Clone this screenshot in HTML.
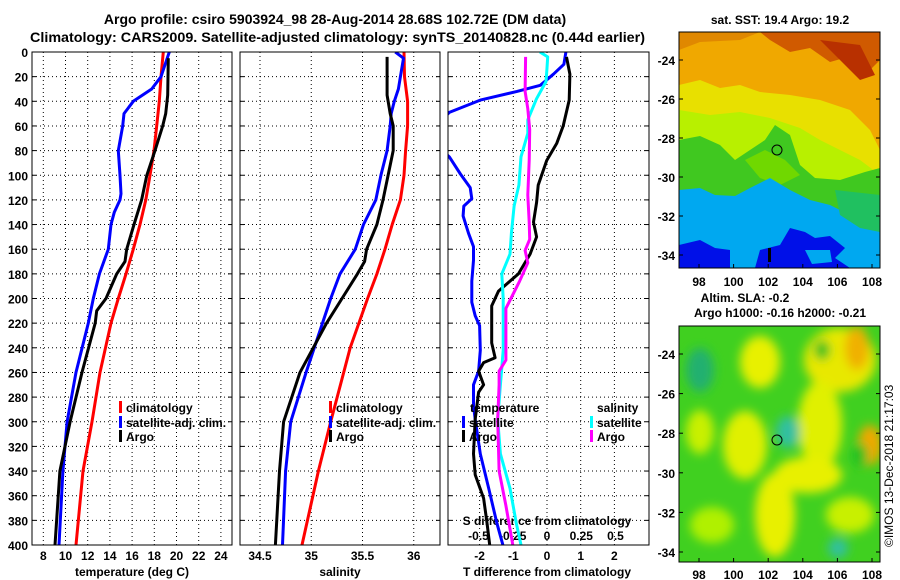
<!DOCTYPE html>
<html><head><meta charset="utf-8"><style>
html,body{margin:0;padding:0;background:#fff;}
svg{display:block;font-family:"Liberation Sans",sans-serif;font-weight:bold;}
text{fill:#000;}
</style></head><body>
<svg id="chart" width="900" height="580" viewBox="0 0 900 580" xmlns="http://www.w3.org/2000/svg">
<defs>
<clipPath id="c1"><rect x="32" y="52" width="200" height="493"/></clipPath>
<clipPath id="c2"><rect x="240" y="52" width="200" height="493"/></clipPath>
<clipPath id="c3"><rect x="448" y="52" width="201" height="493"/></clipPath>
<clipPath id="cm2"><rect x="679" y="326" width="201" height="236"/></clipPath>
<filter id="blur" x="-20%" y="-20%" width="140%" height="140%"><feGaussianBlur stdDeviation="5"/></filter>
</defs>
<text x="335" y="24" text-anchor="middle" font-size="14">Argo profile: csiro 5903924_98 28-Aug-2014 28.68S 102.72E (DM data)</text>
<text x="30" y="42" font-size="14" textLength="615" lengthAdjust="spacingAndGlyphs">Climatology: CARS2009. Satellite-adjusted climatology: synTS_20140828.nc (0.44d earlier)</text>

<g id="panels"></g>

<!-- SST map -->
<g>
<text x="780" y="24" text-anchor="middle" font-size="12">sat. SST: 19.4 Argo: 19.2</text>
<rect x="679" y="32" width="201" height="236" fill="#f0a800"/>
<path d="M760,32 H880 V60 L870,70 L855,55 L830,62 L810,48 L790,52 L770,40 Z" fill="#d05a00"/>
<path d="M820,40 L860,45 L875,75 L860,80 L840,60 Z" fill="#b83000"/>
<path d="M679,32 H760 L740,40 L700,42 L679,50 Z" fill="#e08800"/>
<path d="M679,85 L700,80 L720,88 L740,85 L760,92 L790,95 L820,100 L850,110 L870,130 L880,150 V268 H679 Z" fill="#e8e000"/>
<path d="M679,110 L710,115 L740,112 L770,118 L800,128 L820,140 L860,160 L880,175 V268 H679 Z" fill="#b8f000"/>
<path d="M679,140 L700,136 L720,145 L735,160 L750,150 L765,140 L775,125 L790,135 L800,165 L815,178 L840,180 L865,172 L880,168 V268 H679 Z" fill="#40c820"/>
<path d="M745,160 L765,150 L785,160 L800,175 L780,185 L760,178 Z" fill="#70d800"/>
<path d="M679,190 L700,188 L715,195 L735,196 L750,188 L770,178 L790,190 L810,200 L830,205 L850,215 L880,225 V268 H679 Z" fill="#00a8f0"/>
<path d="M835,190 L880,195 V232 L860,228 L840,215 Z" fill="#20c060"/>
<path d="M679,245 L700,240 L715,248 L730,250 L730,268 H679 Z" fill="#0010e8"/>
<path d="M755,268 L760,250 L780,245 L790,228 L805,232 L815,238 L830,236 L845,248 L835,258 L850,268 Z" fill="#0010e8"/>
<path d="M805,250 L830,250 L832,262 L812,264 Z" fill="#00a8f0"/>
<rect x="768" y="248" width="3" height="14" fill="#000"/>
<ellipse cx="777" cy="150" rx="5" ry="5" fill="none" stroke="#000" stroke-width="1"/>
<rect x="679" y="32" width="201" height="236" fill="none" stroke="#000"/>
</g>

<!-- SLA map -->
<g>
<text x="745" y="302" text-anchor="middle" font-size="12">Altim. SLA: -0.2</text>
<text x="780" y="317" text-anchor="middle" font-size="12">Argo h1000: -0.16 h2000: -0.21</text>
<rect x="679" y="326" width="201" height="236" fill="#40d020"/>
<g clip-path="url(#cm2)" filter="url(#blur)">
<ellipse cx="760" cy="362" rx="20" ry="26" fill="#e8f000"/>
<ellipse cx="745" cy="445" rx="22" ry="34" fill="#e0f000"/>
<ellipse cx="700" cy="432" rx="14" ry="22" fill="#c8f000"/>
<ellipse cx="775" cy="515" rx="20" ry="42" fill="#e8f000"/>
<ellipse cx="712" cy="525" rx="22" ry="18" fill="#b0f000"/>
<ellipse cx="840" cy="360" rx="36" ry="32" fill="#e8e800"/>
<ellipse cx="857" cy="348" rx="12" ry="22" fill="#f0b000"/>
<ellipse cx="820" cy="425" rx="22" ry="44" fill="#e0f000"/>
<ellipse cx="808" cy="475" rx="34" ry="18" fill="#e8f000"/>
<ellipse cx="870" cy="445" rx="12" ry="20" fill="#f0a800"/>
<ellipse cx="850" cy="515" rx="24" ry="18" fill="#c8f000"/>
<ellipse cx="700" cy="370" rx="14" ry="22" fill="#20b070"/>
<ellipse cx="788" cy="432" rx="12" ry="16" fill="#30c0a0"/>
<ellipse cx="838" cy="548" rx="10" ry="10" fill="#30c0a0"/>
<ellipse cx="822" cy="350" rx="8" ry="10" fill="#20c020"/>
<ellipse cx="860" cy="455" rx="8" ry="12" fill="#20c020"/>
</g>
<ellipse cx="777" cy="440" rx="5" ry="5" fill="none" stroke="#000" stroke-width="1"/>
<rect x="679" y="326" width="201" height="236" fill="none" stroke="#000"/>
</g>
<text transform="translate(893,547) rotate(-90)" font-size="12" font-weight="normal">©IMOS 13-Dec-2018 21:17:03</text>
</svg>
<script>
// ---- data ----
var tempTickLabels = [8,10,12,14,16,18,20,22,24];
var salTickLabels = ["34.5","35","35.5","36"];
var tdiffTickLabels = [-2,-1,0,1,2];
var sdiffTickLabels = ["-0.5","-0.25","0","0.25","0.5"];
var depthTicks = [0,20,40,60,80,100,120,140,160,180,200,220,240,260,280,300,320,340,360,380,400];
var latTicks = [-24,-26,-28,-30,-32,-34];
var lonTicks = [98,100,102,104,106,108];

var tClimDepth = [0,20,40,60,80,100,120,140,160,180,200,220,260,300,340,400];
var tClim = [18.81,18.60,18.45,18.22,17.97,17.61,17.23,16.71,16.11,15.45,14.76,14.10,13.11,12.39,11.58,10.95];
var tSatDepth = [0,20,30,40,50,60,80,100,115,120,130,140,160,180,200,220,260,300,340,400];
var tSat = [19.35,18.60,17.77,16.11,15.27,15.15,14.76,14.91,15.0,14.91,14.40,14.10,13.86,13.05,12.50,12.05,10.95,10.14,9.77,9.41];
var tArgoDepth = [5,35,50,60,80,100,120,140,160,170,180,200,210,220,260,300,340,400];
var tArgo = [19.26,19.21,19.03,18.76,18.06,17.32,16.86,16.17,15.51,15.36,14.61,13.65,12.81,12.68,11.49,10.41,9.50,9.05];

var sClimDepth = [0,20,40,60,80,100,120,140,160,180,200,240,300,340,400];
var sClim = [35.905,35.91,35.94,35.94,35.92,35.905,35.87,35.79,35.72,35.64,35.55,35.38,35.19,35.07,34.91];
var sSatDepth = [0,5,20,30,40,50,60,80,100,120,140,160,180,200,260,300,340,400];
var sSat = [35.82,35.90,35.87,35.85,35.81,35.78,35.77,35.74,35.68,35.63,35.51,35.43,35.28,35.19,34.95,34.80,34.75,34.72];
var sArgoDepth = [4,35,50,60,80,100,120,140,160,170,180,200,220,260,300,340,400];
var sArgo = [35.74,35.74,35.77,35.80,35.80,35.75,35.70,35.64,35.54,35.52,35.45,35.30,35.15,34.89,34.73,34.69,34.65];

var dtSatDepth = [0,10,18,27,32,39,49,60,75,85,99,110,119,125,133,147,158,169,186,203,214,222,242,259,270,287,298,326,354,382,400];
var dtSat = [0.56,0.50,0.19,-0.20,-0.89,-1.98,-2.9,-3.3,-3.3,-2.9,-2.57,-2.28,-2.23,-2.47,-2.49,-2.33,-2.18,-2.18,-2.23,-2.23,-2.13,-2.0,-1.98,-2.03,-2.18,-2.18,-2.13,-1.98,-1.73,-1.49,-1.31];
var dtArgoDepth = [4,18,39,60,74,88,108,122,138,150,164,180,194,206,220,236,248,252,259,270,276,298,326,343,362,382,400];
var dtArgo = [0.58,0.68,0.66,0.48,0.29,-0.01,-0.26,-0.31,-0.40,-0.31,-0.50,-0.85,-1.44,-1.64,-1.64,-1.64,-1.54,-1.88,-2.03,-1.88,-2.03,-2.13,-2.18,-2.13,-1.88,-1.78,-1.70];
var dsSatDepth = [0,4,13,24,38,55,66,85,108,125,147,164,180,200,242,270,298,326,354,382,400];
var dsSat = [-0.052,0.005,0,-0.007,-0.077,-0.14,-0.14,-0.19,-0.205,-0.24,-0.26,-0.27,-0.33,-0.32,-0.32,-0.34,-0.36,-0.34,-0.27,-0.225,-0.19];
var dsArgoDepth = [4,32,46,63,88,116,138,152,161,171,186,208,228,250,259,270,298,340,368,400];
var dsArgo = [-0.156,-0.16,-0.14,-0.126,-0.13,-0.14,-0.13,-0.126,-0.16,-0.14,-0.2,-0.3,-0.3,-0.3,-0.35,-0.35,-0.36,-0.35,-0.30,-0.25];

// ---- axes ----
var NS = "http://www.w3.org/2000/svg";
var svg = document.getElementById('chart');
var root = document.getElementById('panels');
function yD(d){ return 52 + d*1.2325; }
function xT(t){ return 43.3 + (t-8)*11.1; }
function xS(s){ return 260 + (s-34.5)*102.5; }
function xDT(v){ return 547 + v*33.7; }
function xDS(v){ return 547 + v*137; }
function yLat1(l){ return 60 + (-24-l)*19.5; }
function yLat2(l){ return 354 + (-24-l)*19.8; }
function xLon(l){ return 699 + (l-98)*17.3; }

function mk(tag, attrs, parent){ var e=document.createElementNS(NS,tag); for(var k in attrs) e.setAttribute(k,attrs[k]); (parent||root).appendChild(e); return e; }
function txt(x,y,s,anchor,size){ var t=mk('text',{x:x,y:y,'text-anchor':anchor||'middle','font-size':size||12}); t.textContent=s; return t; }

var panels = [{x0:32,x1:232},{x0:240,x1:440},{x0:448,x1:649}];
for (var p=0;p<3;p++){
  var P=panels[p];
  for (var i=0;i<depthTicks.length;i++){
    var y=yD(depthTicks[i]);
    if(i>0 && i<depthTicks.length-1){
      var g=mk('line',{x1:P.x0,x2:P.x1,y1:y,y2:y,stroke:'#000','stroke-width':1,'stroke-dasharray':'1,3'});
      
      
    }
    mk('line',{x1:P.x0,x2:P.x0+4,y1:y,y2:y,stroke:'#000'});
    mk('line',{x1:P.x1-4,x2:P.x1,y1:y,y2:y,stroke:'#000'});
  }
}
for (var i=0;i<depthTicks.length;i++){
  var lb=txt(28,yD(depthTicks[i])+5,String(depthTicks[i]),'end');
  
  
}
function vgrid(xs){
  xs.forEach(function(x){
    var g=mk('line',{x1:x,x2:x,y1:52,y2:545,stroke:'#000','stroke-dasharray':'1,3'});
    
    
  });
}
vgrid(tempTickLabels.map(xT));
vgrid(salTickLabels.map(function(s){return xS(+s);}));
vgrid(tdiffTickLabels.map(xDT));
tempTickLabels.forEach(function(t){ var l=txt(xT(t),560,String(t));   });
salTickLabels.forEach(function(s){ var l=txt(xS(+s),560,s);   });
tdiffTickLabels.forEach(function(t){ var l=txt(xDT(t),560,String(t));   });
sdiffTickLabels.forEach(function(s){ var l=txt(xDS(+s),540,s);   });
var st=txt(547,525,'S difference from climatology');  
var a1=txt(132,576,'temperature (deg C)');  
var a2=txt(340,576,'salinity');  
var a3=txt(547,576,'T difference from climatology');  

function series(depths, vals, xf, color, clip, name){
  var d='';
  for (var i=0;i<vals.length;i++){ d += (i?'L':'M') + xf(vals[i]).toFixed(1) + ',' + yD(depths[i]).toFixed(1); }
  var e=mk('path',{d:d,fill:'none',stroke:color,'stroke-width':3,'clip-path':'url(#'+clip+')','stroke-linejoin':'round'});
  
  
}
series(tClimDepth,tClim,xT,'#ff0000','c1','temp-climatology-line');
series(tSatDepth,tSat,xT,'#0000ff','c1','temp-satellite-line');
series(tArgoDepth,tArgo,xT,'#000000','c1','temp-argo-line');
series(sClimDepth,sClim,xS,'#ff0000','c2','sal-climatology-line');
series(sSatDepth,sSat,xS,'#0000ff','c2','sal-satellite-line');
series(sArgoDepth,sArgo,xS,'#000000','c2','sal-argo-line');
series(dtSatDepth,dtSat,xDT,'#0000ff','c3','tdiff-satellite-line');
series(dtArgoDepth,dtArgo,xDT,'#000000','c3','tdiff-argo-line');
series(dsSatDepth,dsSat,xDS,'#00ffff','c3','sdiff-satellite-line');
series(dsArgoDepth,dsArgo,xDS,'#ff00ff','c3','sdiff-argo-line');

panels.forEach(function(P){
  var f=mk('rect',{x:P.x0,y:52,width:P.x1-P.x0,height:493,fill:'none',stroke:'#000','stroke-width':1});
  
  
});

function leg(x,y,color,label){
  var m=mk('rect',{x:x-1,y:y-6,width:3,height:12,fill:color});
  
  
  var t=txt(x+6,y+5,label,'start');
  
  
}
leg(120,407,'#ff0000','climatology'); leg(120,422,'#0000ff','satellite-adj. clim.'); leg(120,436,'#000','Argo');
leg(330,407,'#ff0000','climatology'); leg(330,422,'#0000ff','satellite-adj. clim.'); leg(330,436,'#000','Argo');
var h1=txt(470,412,'temperature','start');  
var h2=txt(597,412,'salinity','start');  
leg(463,422,'#0000ff','satellite'); leg(463,436,'#000','Argo');
leg(591,422,'#00ffff','satellite'); leg(591,436,'#ff00ff','Argo');

latTicks.forEach(function(l){
  var y1=yLat1(l), y2=yLat2(l);
  mk('line',{x1:679,x2:683,y1:y1,y2:y1,stroke:'#000'},svg); mk('line',{x1:876,x2:880,y1:y1,y2:y1,stroke:'#000'},svg);
  mk('line',{x1:679,x2:683,y1:y2,y2:y2,stroke:'#000'},svg); mk('line',{x1:876,x2:880,y1:y2,y2:y2,stroke:'#000'},svg);
  var a=mk('text',{x:675,y:y1+5,'text-anchor':'end','font-size':12},svg); a.textContent=String(l);
   
  var b=mk('text',{x:675,y:y2+5,'text-anchor':'end','font-size':12},svg); b.textContent=String(l);
   
});
lonTicks.forEach(function(l){
  var x=xLon(l);
  mk('line',{x1:x,x2:x,y1:264,y2:268,stroke:'#000'},svg); mk('line',{x1:x,x2:x,y1:558,y2:562,stroke:'#000'},svg);
  var a=mk('text',{x:x,y:286,'text-anchor':'middle','font-size':12},svg); a.textContent=String(l);
   
  var b=mk('text',{x:x,y:579,'text-anchor':'middle','font-size':12},svg); b.textContent=String(l);
   
});
</script>
</body></html>
